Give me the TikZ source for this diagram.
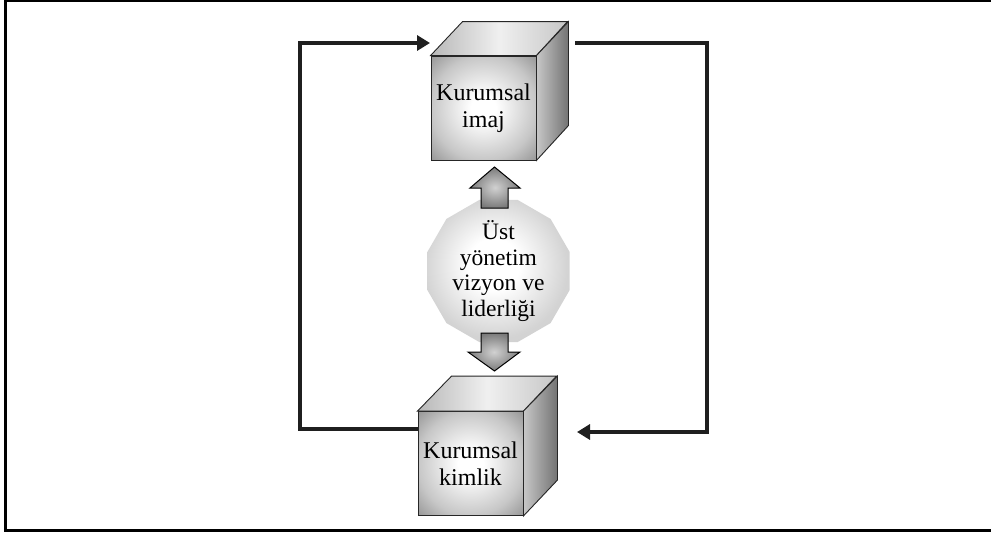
\documentclass[tikz,border=0pt]{standalone}
\usepackage{fontspec}
\setmainfont{Liberation Serif}
\usetikzlibrary{arrows.meta,shapes.geometric,calc}

% shadings for the cube faces, the central disc and the block arrows
\pgfdeclareradialshading{facefront}{\pgfpoint{0bp}{0bp}}{color(0bp)=(white);color(6bp)=(white);color(25bp)=(black!22);color(36bp)=(black!42);color(50bp)=(black!55)}
\pgfdeclareradialshading{discfill}{\pgfpoint{-2bp}{3bp}}{color(0bp)=(white);color(9bp)=(white);color(25bp)=(black!17);color(50bp)=(black!25)}
\pgfdeclareradialshading{blockfill}{\pgfpoint{0bp}{0bp}}{color(0bp)=(black!18);color(25bp)=(black!52);color(50bp)=(black!62)}

\begin{document}
\begin{tikzpicture}[x=1pt,y=-1pt,
  front/.style={draw=black!85, line width=0.9pt, shading=facefront,
    minimum width=105pt, minimum height=104pt, inner sep=0pt, align=center,
    font=\fontsize{24}{27}\selectfont},
  topface/.style={draw=black!85, line width=0.9pt, left color=black!28,
    right color=black!22, middle color=black!6},
  sideface/.style={draw=black!85, line width=0.9pt, left color=black!22,
    right color=black!55},
  disc/.style={regular polygon, regular polygon sides=12, minimum size=142pt,
    inner sep=0pt, shading=discfill, align=center,
    font=\fontsize{23.5}{25.5}\selectfont},
  blockarrow/.style={draw=black, line width=1pt, shading=blockfill},
  link/.style={line width=4pt, black!88},
  linktip/.style={-{Triangle[length=13pt,width=15pt]}},
]
\useasboundingbox (0,0) rectangle (991,536);

% outer frame
\draw[line width=3pt] (995,0.5) -- (5,0.5) -- (5,530) -- (995,530);

% upper cube: corporate image
\node[front] (img) at (483.5,108) {Kurumsal\\imaj};
\draw[topface] (img.north west) -- ++(32,-34) -- ++(105,0) -- (img.north east) -- cycle;
\draw[sideface] (img.north east) -- ++(32,-34) -- ++(0,104) -- (img.south east) -- cycle;

% lower cube: corporate identity
\node[front] (kim) at (470.5,463.5) {Kurumsal\\kimlik};
\draw[topface] (kim.north west) -- ++(34,-35) -- ++(105,0) -- (kim.north east) -- cycle;
\draw[sideface] (kim.north east) -- ++(34,-35) -- ++(0,104) -- (kim.south east) -- cycle;

% central disc: top management vision and leadership
\node[disc] (lead) at (498.5,271) {Üst\\yönetim\\vizyon ve\\liderliği};

% block arrows from the disc to both cubes
\path[blockarrow] (481,208) -- (481,188) -- (470,188) -- (494.5,167) -- (520,188)
  -- (508,188) -- (508,208) -- cycle;
\path[blockarrow] (481,333) -- (508,333) -- (508,352) -- (520,352) -- (494.5,371)
  -- (468,352) -- (481,352) -- cycle;

% feedback loops
\coordinate (lbot) at (300,429);
\coordinate (ltop) at (300,43);
\coordinate (ltip) at (430,43);
\coordinate (rstart) at (575,43);
\coordinate (rtop) at (707,43);
\coordinate (rbot) at (707,432);
\coordinate (rtip) at (577,432);
\draw[link, linktip] (kim.west |- lbot) -- (lbot) -- (ltop) -- (ltip);
\draw[link, linktip] (rstart) -- (rtop) -- (rbot) -- (rtip);
\end{tikzpicture}
\end{document}
